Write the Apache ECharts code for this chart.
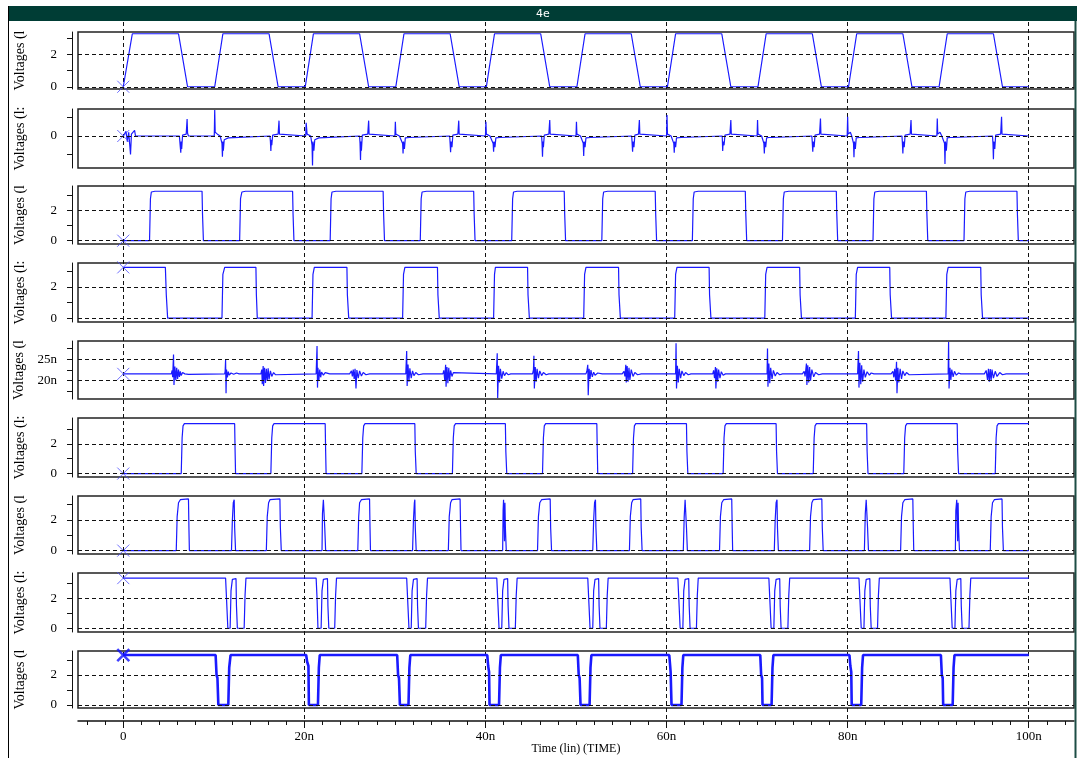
<!DOCTYPE html>
<html><head><meta charset="utf-8">
<script src="https://cdn.jsdelivr.net/npm/echarts@6/dist/echarts.min.js"></script>
<style>html,body{margin:0;padding:0;background:#fff}#c{width:1077px;height:758px}</style>
</head><body><div id="c"></div>
<script>
// ---------------- DATA ----------------
const chartTitle = '4e';
const timeAxisName = 'Time (lin) (TIME)';
const timeLabelTicks = [0, 20, 40, 60, 80, 100];
const timeMinorTicks = [-4,-2,0,2,4,6,8,10,12,14,16,18,20,22,24,26,28,30,32,34,36,38,40,42,44,46,48,50,52,54,56,58,60,62,64,66,68,70,72,74,76,78,80,82,84,86,88,90,92,94,96,98,100,102,104];
const panelNames = ['Voltages (l','Voltages (l:','Voltages (l','Voltages (l:','Voltages (l','Voltages (l:','Voltages (l','Voltages (l:','Voltages (l'];
const voltTicks = [0, 1, 2, 3];
const voltLabels = [0, 2];
const spikeTicks = [-1, 0, 1];
const spikeLabels = [0];
const nanoTicks = [17.5, 20, 22.5, 25, 27.5];
const nanoLabels = [20, 25];

// signal 1 : trapezoid clock
const sig1 = [[0,0],[1.0,3.3],[6.1,3.3],[7.1,0],[10.1,0],[11.0,3.3],[16.1,3.3],[17.1,0],[20.1,0],[21.0,3.3],[26.1,3.3],[27.1,0],[30.1,0],[31.0,3.3],[36.1,3.3],[37.1,0],[40.1,0],[41.0,3.3],[46.1,3.3],[47.1,0],[50.1,0],[51.0,3.3],[56.1,3.3],[57.1,0],[60.1,0],[61.0,3.3],[66.1,3.3],[67.1,0],[70.1,0],[71.0,3.3],[76.1,3.3],[77.1,0],[80.1,0],[81.0,3.3],[86.1,3.3],[87.1,0],[90.1,0],[91.0,3.3],[96.1,3.3],[97.1,0],[100,0]];

// signal 2 : spikes around 0
const sig2 = [[0,0],[0.3,0.25],[0.45,-0.3],[0.6,0.2],[0.8,-1.0],[0.9,0.1],[1.1,0.05],[1.25,0.3],[1.35,0],
[6.2,0],[6.3,-0.6],[6.35,-0.9],[6.4,-0.3],[6.45,-0.7],[6.55,0.05],[6.95,0.1],[7.05,0.92],[7.1,0.15],[7.2,0],
[10.05,0],[10.1,1.41],[10.15,0.2],[10.4,0.1],[10.5,0.2],[10.7,0],[10.9,-0.4],[10.95,-1.12],[11.0,-0.3],[11.05,-0.8],[11.15,-0.2],[11.3,-0.1],[11.6,-0.1],[11.7,0],
[16.2,0],[16.25,-0.3],[16.3,-0.81],[16.35,-0.2],[16.4,-0.5],[16.5,0.05],[17.1,0.1],[17.2,0.83],[17.25,0.1],[17.35,0],
[20.15,0],[20.2,0.72],[20.3,0.1],[20.5,0.2],[20.7,0],[20.85,-0.5],[20.9,-1.6],[20.95,-0.3],[21.05,-0.8],[21.15,-0.2],[21.3,-0.1],[21.6,-0.1],[21.7,0],
[26.1,0],[26.15,-0.4],[26.2,-1.3],[26.25,-0.3],[26.3,-0.8],[26.4,0.05],[27.0,0.1],[27.1,0.83],[27.15,0.1],[27.25,0],
[30.0,0],[30.05,0.77],[30.1,0.1],[30.3,0.15],[30.5,0],[30.85,-0.4],[30.9,-0.94],[30.95,-0.3],[31.05,-0.7],[31.15,-0.1],[31.3,-0.08],[31.6,-0.08],[31.7,0],
[36.05,0],[36.1,-0.4],[36.15,-0.88],[36.2,-0.3],[36.3,-0.6],[36.4,0.05],[36.95,0.1],[37.05,0.83],[37.1,0.1],[37.2,0],
[40.0,0],[40.05,0.77],[40.1,0.1],[40.3,0.15],[40.5,0],[40.85,-0.4],[40.9,-0.85],[40.95,-0.3],[41.05,-0.6],[41.15,-0.1],[41.3,-0.08],[41.6,-0.08],[41.7,0],
[46.2,0],[46.25,-0.4],[46.3,-1.12],[46.35,-0.3],[46.4,-0.6],[46.5,0.05],[47.0,0.1],[47.1,0.86],[47.15,0.1],[47.25,0],
[50.0,0],[50.05,0.77],[50.1,0.1],[50.3,0.2],[50.5,0],[50.8,-0.4],[50.85,-1.08],[50.9,-0.3],[51.0,-0.6],[51.1,-0.1],[51.3,-0.08],[51.6,-0.08],[51.7,0],
[56.15,0],[56.2,-0.4],[56.25,-0.85],[56.3,-0.3],[56.4,-0.6],[56.5,0.05],[56.9,0.1],[57.0,0.86],[57.05,0.1],[57.15,0],
[60.0,0],[60.05,1.14],[60.1,0.1],[60.3,0.2],[60.5,0],[60.8,-0.4],[60.85,-0.9],[60.9,-0.3],[61.0,-0.6],[61.1,-0.1],[61.3,-0.08],[61.6,-0.08],[61.7,0],
[66.15,0],[66.2,-0.81],[66.25,-0.3],[66.35,-0.5],[66.45,0.05],[67.0,0.1],[67.1,0.86],[67.15,0.1],[67.25,0],
[70.0,0],[70.05,0.86],[70.1,0.1],[70.3,0.2],[70.5,0],[70.75,-0.4],[70.8,-0.94],[70.85,-0.3],[70.95,-0.6],[71.05,-0.1],[71.3,-0.08],[71.6,-0.08],[71.7,0],
[76.05,0],[76.1,-0.4],[76.15,-0.85],[76.2,-0.3],[76.3,-0.6],[76.4,0.05],[76.9,0.1],[77.0,0.95],[77.05,0.1],[77.15,0],
[79.95,0],[80.0,1.04],[80.05,0.1],[80.3,0.2],[80.45,0],[80.65,-0.4],[80.7,-1.15],[80.75,-0.3],[80.85,-0.7],[80.95,-0.1],[81.3,-0.08],[81.6,-0.08],[81.7,0],
[86.0,0],[86.05,-0.4],[86.1,-0.94],[86.15,-0.3],[86.25,-0.6],[86.35,0.05],[86.9,0.1],[87.0,0.86],[87.05,0.1],[87.15,0],
[89.85,0],[89.9,0.95],[89.95,0.1],[90.2,0.2],[90.4,0],[90.7,-0.4],[90.75,-1.51],[90.8,-0.3],[90.9,-0.8],[91.0,-0.1],[91.3,-0.08],[91.6,-0.08],[91.7,0],
[96.0,0],[96.05,-0.4],[96.1,-1.26],[96.15,-0.3],[96.25,-0.7],[96.35,0.05],[96.9,0.1],[97.0,1.04],[97.05,0.1],[97.15,0],
[100,0]];

// signal 3
const sig3 = [[0,0],[2.9,0],[3.0,2.8],[3.1,3.25],[3.5,3.3],[8.7,3.3],[8.75,1.8],[8.85,0],
[12.85,0],[12.95,2.8],[13.1,3.25],[13.5,3.3],[18.7,3.3],[18.75,1.8],[18.85,0],
[22.85,0],[22.95,2.8],[23.05,3.25],[23.5,3.3],[28.7,3.3],[28.75,1.8],[28.85,0],
[32.8,0],[32.9,2.8],[33.0,3.25],[33.5,3.3],[38.7,3.3],[38.75,1.8],[38.85,0],
[42.9,0],[43.0,2.8],[43.1,3.25],[43.5,3.3],[48.7,3.3],[48.75,1.8],[48.85,0],
[52.85,0],[52.95,2.8],[53.05,3.25],[53.5,3.3],[58.75,3.3],[58.8,1.8],[58.9,0],
[62.85,0],[62.95,2.8],[63.05,3.25],[63.5,3.3],[68.7,3.3],[68.75,1.8],[68.85,0],
[72.8,0],[72.9,2.8],[73.0,3.25],[73.5,3.3],[78.75,3.3],[78.8,1.8],[78.9,0],
[82.8,0],[82.9,2.8],[83.0,3.25],[83.5,3.3],[88.7,3.3],[88.75,1.8],[88.85,0],
[92.85,0],[92.95,2.8],[93.05,3.25],[93.5,3.3],[98.7,3.3],[98.75,1.8],[98.85,0],[100,0]];

// signal 4
const sig4 = [[0,3.25],[4.65,3.25],[4.75,1.5],[4.9,0],
[10.9,0],[11.0,2.8],[11.2,3.25],[14.65,3.25],[14.7,1.5],[14.8,0],
[20.85,0],[20.95,2.8],[21.1,3.25],[24.7,3.25],[24.75,1.5],[24.9,0],
[30.85,0],[30.95,2.8],[31.1,3.25],[34.7,3.25],[34.75,1.5],[34.9,0],
[40.9,0],[41.0,2.8],[41.1,3.25],[44.65,3.25],[44.7,1.5],[44.85,0],
[50.85,0],[50.95,2.8],[51.1,3.25],[54.7,3.25],[54.75,1.5],[54.9,0],
[60.9,0],[61.0,2.8],[61.15,3.25],[64.7,3.25],[64.75,1.5],[64.9,0],
[70.85,0],[70.95,2.8],[71.1,3.25],[74.7,3.25],[74.75,1.5],[74.9,0],
[80.85,0],[80.95,2.8],[81.1,3.25],[84.65,3.25],[84.7,1.5],[84.85,0],
[90.85,0],[90.95,2.8],[91.1,3.25],[94.7,3.25],[94.75,1.5],[94.9,0],[100,0]];

// signal 5 : nano-scale bursts around 21.6n
const sig5 = [[0,21.6],
[5.3,21.6],[5.4,22.4],[5.45,20.8],[5.55,26.1],[5.6,19.0],[5.7,23.3],[5.8,20.1],[5.9,23.0],[6.0,20.4],[6.1,22.6],[6.2,20.9],[6.3,22.2],[6.4,21.2],[6.55,21.9],[6.8,21.6],[7.0,21.8],[7.2,21.5],[7.3,21.6],
[11.2,21.6],[11.25,22.2],[11.3,24.8],[11.35,17.1],[11.4,22.6],[11.5,20.8],[11.6,22.1],[11.7,21.3],[11.9,21.8],[12.2,21.5],[12.5,21.8],[12.8,21.6],
[15.2,21.6],[15.3,22.6],[15.35,19.2],[15.45,23.4],[15.5,18.8],[15.6,23.0],[15.7,19.5],[15.8,22.8],[15.9,20.0],[16.0,22.9],[16.1,20.3],[16.25,22.3],[16.4,21.0],[16.6,21.9],[16.8,21.4],[16.9,21.6],
[21.3,21.6],[21.35,22.0],[21.4,28.1],[21.45,18.4],[21.5,23.0],[21.6,20.0],[21.7,22.6],[21.8,20.8],[21.9,22.0],[22.1,21.3],[22.3,21.9],[22.5,21.5],[22.8,21.6],
[25.0,21.6],[25.2,22.3],[25.3,21.0],[25.4,22.6],[25.5,20.4],[25.6,22.8],[25.7,18.2],[25.8,22.5],[25.95,20.6],[26.1,22.3],[26.3,21.1],[26.5,21.9],[26.8,21.4],[27.2,21.6],
[31.2,21.6],[31.3,26.9],[31.35,18.8],[31.45,23.8],[31.55,19.8],[31.65,22.9],[31.8,20.6],[31.95,22.3],[32.1,21.2],[32.3,21.9],[32.6,21.4],[32.8,21.8],[33.1,21.6],
[35.3,21.6],[35.4,22.4],[35.5,20.2],[35.6,23.7],[35.65,18.6],[35.75,23.2],[35.85,19.4],[35.95,23.0],[36.05,20.0],[36.15,22.4],[36.3,21.0],[36.45,21.9],[36.6,21.6],
[41.2,21.6],[41.3,26.4],[41.35,16.0],[41.45,23.5],[41.55,19.6],[41.65,22.8],[41.8,20.5],[41.95,22.2],[42.1,21.2],[42.3,21.9],[42.5,21.4],[42.8,21.6],
[45.2,21.6],[45.3,22.5],[45.35,25.8],[45.4,18.2],[45.5,23.2],[45.6,19.8],[45.7,22.8],[45.85,20.6],[46.0,22.3],[46.2,21.2],[46.4,21.9],[46.7,21.4],[47.0,21.6],
[51.1,21.6],[51.2,22.2],[51.3,23.7],[51.35,16.6],[51.45,22.8],[51.55,20.4],[51.65,22.5],[51.8,20.9],[51.95,22.0],[52.1,21.3],[52.4,21.8],[52.6,21.4],[52.9,21.6],
[55.1,21.6],[55.3,22.2],[55.4,21.0],[55.5,23.7],[55.55,19.6],[55.65,23.4],[55.75,19.8],[55.85,23.0],[55.95,20.2],[56.1,22.6],[56.3,21.0],[56.5,21.9],[56.8,21.4],[57.2,21.6],
[61.0,21.6],[61.05,28.7],[61.1,18.2],[61.2,23.5],[61.3,19.6],[61.4,22.8],[61.55,20.6],[61.7,22.3],[61.9,21.2],[62.1,21.9],[62.4,21.4],[62.7,21.6],
[65.1,21.6],[65.2,22.4],[65.3,20.6],[65.4,23.2],[65.45,18.2],[65.55,22.9],[65.65,19.8],[65.75,22.6],[65.9,20.6],[66.05,22.1],[66.25,21.3],[66.5,21.6],
[71.1,21.6],[71.15,27.5],[71.2,18.6],[71.3,24.0],[71.4,19.4],[71.5,23.0],[71.65,20.4],[71.8,22.4],[72.0,21.1],[72.2,21.9],[72.5,21.4],[72.8,21.6],
[75.0,21.6],[75.2,22.2],[75.3,21.0],[75.45,24.0],[75.5,19.0],[75.6,23.6],[75.7,19.6],[75.8,23.2],[75.9,20.0],[76.05,22.6],[76.25,20.9],[76.45,21.9],[76.8,21.4],[77.2,21.6],
[81.1,21.6],[81.2,26.9],[81.25,18.4],[81.35,24.2],[81.45,19.2],[81.55,23.6],[81.65,19.8],[81.8,22.6],[81.95,20.8],[82.15,22.1],[82.4,21.3],[82.6,21.8],[82.9,21.6],
[84.8,21.6],[85.0,22.2],[85.1,20.8],[85.2,22.8],[85.3,20.0],[85.4,24.4],[85.45,17.1],[85.55,23.0],[85.65,19.6],[85.8,22.8],[85.95,20.4],[86.1,22.3],[86.3,21.2],[86.5,21.9],[86.8,21.4],[87.0,21.6],
[91.1,21.6],[91.15,29.0],[91.2,18.2],[91.3,23.0],[91.4,20.2],[91.5,22.6],[91.65,20.9],[91.8,22.2],[92.0,21.3],[92.25,21.8],[92.5,21.6],
[95.1,21.6],[95.3,22.4],[95.45,20.2],[95.55,22.8],[95.65,19.8],[95.75,22.7],[95.85,20.2],[95.95,22.6],[96.1,20.6],[96.3,22.2],[96.5,21.0],[96.8,21.9],[97.1,21.4],[97.5,21.6],
[100,21.6]];

// signal 6
const sig6 = [[0,0],[6.4,0],[6.5,2.4],[6.6,3.2],[6.75,3.35],[12.3,3.35],[12.35,1.5],[12.4,0],
[16.3,0],[16.4,2.4],[16.5,3.2],[16.65,3.35],[22.3,3.35],[22.35,1.5],[22.4,0],
[26.35,0],[26.45,2.4],[26.55,3.2],[26.7,3.35],[32.2,3.35],[32.25,1.5],[32.35,0],
[36.35,0],[36.45,2.4],[36.55,3.2],[36.7,3.35],[42.2,3.35],[42.25,1.5],[42.35,0],
[46.3,0],[46.4,2.4],[46.5,3.2],[46.65,3.35],[52.3,3.35],[52.35,1.5],[52.4,0],
[56.25,0],[56.35,2.4],[56.45,3.2],[56.6,3.35],[62.2,3.35],[62.25,1.5],[62.35,0],
[66.25,0],[66.35,2.4],[66.45,3.2],[66.6,3.35],[72.1,3.35],[72.15,1.5],[72.25,0],
[76.2,0],[76.3,2.4],[76.4,3.2],[76.55,3.35],[82.1,3.35],[82.15,1.5],[82.25,0],
[86.2,0],[86.3,2.4],[86.4,3.2],[86.55,3.35],[92.1,3.35],[92.15,1.5],[92.25,0],
[96.3,0],[96.4,2.4],[96.5,3.2],[96.65,3.35],[100,3.35]];

// signal 7 : wide + narrow pulses
const sig7 = [[0,0],[5.85,0],[5.95,2.2],[6.1,3.1],[6.3,3.3],[7.2,3.35],[7.25,1.5],[7.3,0],
[11.95,0],[12.05,2.0],[12.15,3.1],[12.25,3.3],[12.3,1.5],[12.4,0],
[15.8,0],[15.9,2.2],[16.05,3.1],[16.2,3.3],[17.3,3.35],[17.35,1.5],[17.45,0],
[21.95,0],[22.0,2.4],[22.1,3.3],[22.2,3.2],[22.25,1.5],[22.35,0],
[25.9,0],[26.0,2.2],[26.1,3.1],[26.3,3.3],[27.2,3.35],[27.25,1.5],[27.3,0],
[31.95,0],[32.05,2.0],[32.15,3.1],[32.2,3.3],[32.25,1.5],[32.35,0],
[35.9,0],[36.0,2.2],[36.15,3.1],[36.3,3.3],[37.2,3.35],[37.25,1.5],[37.3,0],
[41.9,0],[41.95,2.6],[42.0,3.3],[42.1,0.6],[42.15,3.1],[42.2,1.5],[42.3,0],
[45.75,0],[45.85,2.2],[46.0,3.1],[46.2,3.3],[47.15,3.35],[47.2,1.5],[47.3,0],
[51.85,0],[51.95,2.0],[52.05,3.1],[52.15,3.3],[52.2,1.5],[52.3,0],
[55.9,0],[56.0,2.2],[56.15,3.1],[56.3,3.3],[57.15,3.35],[57.2,1.5],[57.3,0],
[61.85,0],[61.95,2.2],[62.05,3.3],[62.15,3.2],[62.2,1.5],[62.3,0],
[65.85,0],[65.95,2.2],[66.1,3.1],[66.3,3.3],[67.2,3.35],[67.25,1.5],[67.3,0],
[71.9,0],[72.0,2.0],[72.1,3.1],[72.2,3.3],[72.25,1.5],[72.35,0],
[75.8,0],[75.9,2.2],[76.05,3.1],[76.2,3.3],[77.15,3.35],[77.2,1.5],[77.3,0],
[81.85,0],[81.95,2.4],[82.05,3.3],[82.15,3.2],[82.2,1.5],[82.3,0],
[85.85,0],[85.95,2.2],[86.1,3.1],[86.3,3.3],[87.2,3.35],[87.25,1.5],[87.3,0],
[91.9,0],[91.95,2.6],[92.05,3.3],[92.15,0.6],[92.2,3.1],[92.25,1.5],[92.35,0],
[95.75,0],[95.85,2.2],[96.0,3.1],[96.2,3.3],[97.05,3.35],[97.1,1.5],[97.2,0],[100,0]];

// signal 8 : double notches
const sig8 = [[0,3.33],[11.3,3.33],[11.4,2.0],[11.55,0],[11.8,0],[11.9,2.5],[12.05,3.25],[12.45,3.3],[12.5,1.5],[12.6,0],[13.35,0],[13.45,2.2],[13.55,3.33],
[21.3,3.33],[21.4,2.0],[21.5,0],[21.85,0],[21.95,2.5],[22.1,3.25],[22.55,3.3],[22.6,1.5],[22.7,0],[23.35,0],[23.45,2.2],[23.55,3.33],
[31.3,3.33],[31.4,2.0],[31.55,0],[31.8,0],[31.9,2.5],[32.05,3.25],[32.45,3.3],[32.5,1.5],[32.6,0],[33.4,0],[33.5,2.2],[33.6,3.33],
[41.25,3.33],[41.35,2.0],[41.5,0],[41.8,0],[41.9,2.5],[42.05,3.25],[42.45,3.3],[42.5,1.5],[42.6,0],[43.3,0],[43.4,2.2],[43.5,3.33],
[51.3,3.33],[51.4,2.0],[51.55,0],[51.85,0],[51.95,2.5],[52.1,3.25],[52.5,3.3],[52.55,1.5],[52.65,0],[53.35,0],[53.45,2.2],[53.55,3.33],
[61.25,3.33],[61.35,2.0],[61.5,0],[61.8,0],[61.9,2.5],[62.05,3.25],[62.45,3.3],[62.5,1.5],[62.6,0],[63.3,0],[63.4,2.2],[63.5,3.33],
[71.3,3.33],[71.4,2.0],[71.55,0],[71.85,0],[71.95,2.5],[72.1,3.25],[72.5,3.3],[72.55,1.5],[72.65,0],[73.4,0],[73.5,2.2],[73.6,3.33],
[81.25,3.33],[81.35,2.0],[81.5,0],[81.8,0],[81.9,2.5],[82.05,3.25],[82.45,3.3],[82.5,1.5],[82.6,0],[83.3,0],[83.4,2.2],[83.5,3.33],
[91.3,3.33],[91.4,2.0],[91.55,0],[91.85,0],[91.95,2.5],[92.1,3.25],[92.5,3.3],[92.55,1.5],[92.65,0],[93.4,0],[93.5,2.2],[93.6,3.33],[100,3.33]];

// signal 9 : thick low pulses
const sig9 = [[0,3.33],[10.2,3.33],[10.3,2.0],[10.4,1.8],[10.5,0],[11.6,0],[11.7,2.5],[11.85,3.33],
[20.2,3.33],[20.3,2.9],[20.45,2.6],[20.5,0],[21.5,0],[21.6,2.5],[21.7,3.33],
[30.25,3.33],[30.35,2.0],[30.45,1.8],[30.55,0],[31.5,0],[31.6,2.5],[31.7,3.33],
[40.2,3.33],[40.3,2.6],[40.4,2.2],[40.45,0],[41.5,0],[41.6,2.5],[41.7,3.33],
[50.2,3.33],[50.3,2.0],[50.4,1.8],[50.5,0],[51.5,0],[51.6,2.5],[51.7,3.33],
[60.3,3.33],[60.4,2.6],[60.45,2.2],[60.55,0],[61.65,0],[61.75,2.5],[61.85,3.33],
[70.35,3.33],[70.45,2.0],[70.55,1.8],[70.6,0],[71.6,0],[71.7,2.5],[71.8,3.33],
[80.2,3.33],[80.3,2.6],[80.4,2.2],[80.45,0],[81.5,0],[81.6,2.5],[81.7,3.33],
[90.3,3.33],[90.4,2.0],[90.5,1.8],[90.55,0],[91.6,0],[91.7,2.5],[91.8,3.33],[100,3.33]];

const signals = [sig1, sig2, sig3, sig4, sig5, sig6, sig7, sig8, sig9];

// ---------------- LAYOUT / STYLE ----------------
const panelTops    = [32, 109, 186, 263, 341, 418, 496, 573, 651];
const panelHeights = [57, 59, 58, 59, 58, 59, 58, 59, 57];
const panelRanges  = [[-0.14,3.41],[-1.73,1.46],[-0.22,3.65],[-0.25,3.53],[15.75,29.25],[-0.23,3.73],[-0.22,3.54],[-0.25,3.67],[-0.2,3.6]];
const panelKinds   = ['v','s','v','v','n','v','v','v','v'];
const GL = 78, GW = 996;
const BLUE = '#1a1aff';
const serif = 'Liberation Serif';

const grids = [{left: GL, width: GW, top: 22, height: 699, show: false, containLabel:false, outerBoundsMode:'none'}];
const xAxes = [
  {gridIndex:0, type:'value', min:-5, max:105, position:'bottom',
   axisLine:{show:true, lineStyle:{color:'#111', width:1.5}},
   axisTick:{show:true, inside:false, length:4, customValues: timeMinorTicks, lineStyle:{color:'#111'}},
   axisLabel:{show:true, customValues: timeLabelTicks, margin:9, color:'#000', fontFamily: serif, fontSize:13,
              formatter: v => v === 0 ? '0' : v + 'n'},
   splitLine:{show:false},
   name: timeAxisName, nameLocation:'middle', nameGap:22, nameMoveOverlap:false,
   nameTextStyle:{color:'#000', fontFamily: serif, fontSize:12}},
  {gridIndex:0, type:'value', min:-5, max:105, position:'bottom',
   axisLine:{show:false},
   axisTick:{show:true, inside:false, length:7, customValues: timeLabelTicks, lineStyle:{color:'#111'}},
   axisLabel:{show:false},
   splitLine:{show:true, lineStyle:{color:'#111', type:[4,3], width:1}}}
];
const yAxes = [{gridIndex:0, type:'value', min:0, max:1, show:false}];
const series = [];

signals.forEach((sig, i) => {
  const gi = i + 1;        // grid / y-axis index
  const xi = i + 2;        // x-axis index (two x axes live on grid 0)
  const kind = panelKinds[i];
  grids.push({left: GL, width: GW, top: panelTops[i], height: panelHeights[i], show: true,
              containLabel:false, outerBoundsMode:'none',
              borderColor:'#222', borderWidth:1.5});
  xAxes.push({gridIndex: gi, type:'value', min:-5, max:105, show:false});
  const ticks = kind === 'v' ? voltTicks : (kind === 's' ? spikeTicks : nanoTicks);
  const labels = kind === 'v' ? voltLabels : (kind === 's' ? spikeLabels : nanoLabels);
  yAxes.push({gridIndex: gi, type:'value', min: panelRanges[i][0], max: panelRanges[i][1], offset: 6,
    axisLine:{show:true, onZero:false, lineStyle:{color:'#111', width:1}},
    axisTick:{show:true, length:5, customValues: ticks, lineStyle:{color:'#111'}},
    axisLabel:{show:true, customValues: labels, margin:15, color:'#000', fontFamily: serif, fontSize:13,
               formatter: v => kind === 'n' ? v + 'n' : String(v)},
    splitLine:{show:false},
    name: panelNames[i], nameLocation:'middle', nameRotate:90, nameGap:45,
    nameTextStyle:{color:'#000', fontFamily: serif, fontSize:14}});
  const thick = i === 8;
  series.push({
    type:'line', xAxisIndex: xi, yAxisIndex: gi, data: sig, showSymbol:false, symbol:'none',
    z:3,
    lineStyle:{color: BLUE, width: thick ? 2.6 : 1.2},
    markLine:{silent:true, symbol:['none','none'], label:{show:false},
      lineStyle:{color:'#111', type:[4,3], width:1},
      data: labels.map(v => ({yAxis: v}))}
  });
  series.push({
    type:'scatter', xAxisIndex: xi, yAxisIndex: gi, data: [sig[0]], z:4,
    symbol:'path://M0,0L10,10M10,0L0,10', symbolSize: 12, symbolKeepAspect:true,
    itemStyle:{color:'rgba(0,0,0,0)', borderColor: thick ? '#1010ff' : '#4a4aff', borderWidth: thick ? 2.5 : 1}
  });
});

const chart = echarts.init(document.getElementById('c'), null, {renderer:'canvas'});
chart.setOption({
  animation:false,
  backgroundColor:'#ffffff',
  title:{text: chartTitle, left: 536, top: 7, padding:0,
         textStyle:{color:'#ffffff', fontSize:11, fontWeight:'normal', fontFamily:'DejaVu Sans', lineHeight:14}},
  graphic:[
    {type:'rect', left:8, top:6, z:-1, shape:{width:1069, height:15}, style:{fill:'#003d35'}},
    {type:'line', z:10, shape:{x1:8.5, y1:6, x2:8.5, y2:758}, style:{stroke:'#000', lineWidth:1}},
    {type:'line', z:10, shape:{x1:1075.5, y1:21, x2:1075.5, y2:758}, style:{stroke:'#1d4d45', lineWidth:2}}
  ],
  grid: grids, xAxis: xAxes, yAxis: yAxes, series: series
});
</script></body></html>
